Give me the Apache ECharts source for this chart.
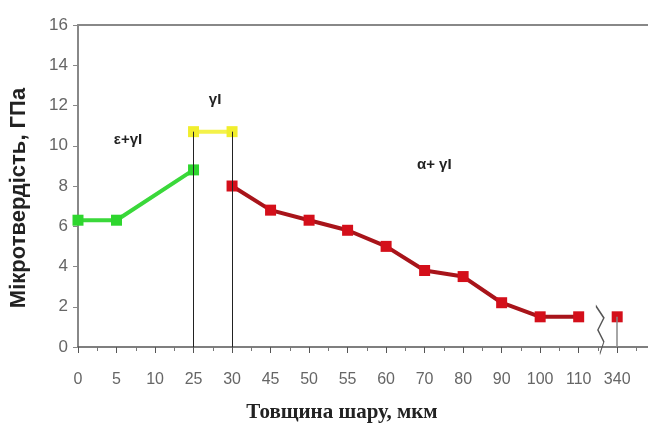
<!DOCTYPE html>
<html><head><meta charset="utf-8">
<script src="https://cdn.jsdelivr.net/npm/echarts@6/dist/echarts.min.js"></script>
<style>html,body{margin:0;padding:0;background:#fff}#c{width:648px;height:425px}</style>
</head><body><div id="c"></div>
<script>
const categories = ['0','5','10','25','30','45','50','55','60','70','80','90','100','110','340'];
const greenValues = [6.3, 6.3, null, 8.8, null, null, null, null, null, null, null, null, null, null, null];
const yellowValues = [null, null, null, 10.7, 10.7, null, null, null, null, null, null, null, null, null, null];
const redValues = [null, null, null, null, 8.0, 6.8, 6.3, 5.8, 5.0, 3.8, 3.5, 2.2, 1.5, 1.5, 1.5];
const yTicks = [0, 2, 4, 6, 8, 10, 12, 14, 16];
const phaseLabels = [
  {text: 'ε+γI', x: 1.3, y: 10.3},
  {text: 'γI', x: 3.56, y: 12.3},
  {text: 'α+ γI', x: 9.25, y: 9.05}
];
const breakAfter = 13; // line break between '110' and '340'

function toPairs(vals, breakIdx) {
  const out = [];
  vals.forEach((v, i) => {
    if (v === null) return;
    out.push([i, v]);
    if (breakIdx !== undefined && i === breakIdx) out.push([i + 0.5, '-']);
  });
  return out;
}

const chart = echarts.init(document.getElementById('c'));
const labelFont = {color: '#666', fontSize: 17, fontFamily: 'Liberation Sans'};
chart.setOption({
  animation: false,
  grid: {left: 78, top: 25, right: 0, bottom: 78, outerBoundsMode: 'none', containLabel: false},
  xAxis: [{
    type: 'value', min: 0, max: 14.8, interval: 1,
    axisLine: {lineStyle: {color: '#555', width: 1.5}},
    axisTick: {show: true, length: 6, lineStyle: {color: '#555'}},
    minorTick: {show: true, splitNumber: 2, length: 4, lineStyle: {color: '#777'}},
    splitLine: {show: false},
    axisLabel: Object.assign({margin: 25, showMaxLabel: false,
      formatter: v => (Number.isInteger(v) && categories[v] !== undefined) ? categories[v] : ''}, labelFont, {fontSize: 16}),
    name: 'Товщина шару, мкм', nameLocation: 'middle', nameGap: 55,
    nameTextStyle: {fontFamily: 'Liberation Serif', fontWeight: 'bold', fontSize: 21, color: '#222', padding: [0, 42, 0, 0]}
  }, {
    type: 'value', position: 'top', min: 0, max: 14.8,
    axisLine: {show: true, lineStyle: {color: '#888', width: 2}},
    axisTick: {show: false}, axisLabel: {show: false}, splitLine: {show: false}
  }],
  yAxis: {
    type: 'value', min: yTicks[0], max: yTicks[yTicks.length - 1], interval: 2,
    axisLine: {show: true, lineStyle: {color: '#888', width: 2}},
    axisTick: {show: true, length: 5, lineStyle: {color: '#888'}},
    splitLine: {show: false},
    axisLabel: Object.assign({margin: 10}, labelFont),
    name: 'Мікротвердість, ГПа', nameLocation: 'middle', nameGap: 48,
    nameTextStyle: {fontFamily: 'Liberation Sans', fontWeight: 'bold', fontSize: 22, color: '#222', padding: [0, 24, 0, 0]}
  },
  series: [
    {
      type: 'line', data: toPairs(greenValues), symbol: 'rect', symbolSize: 11,
      lineStyle: {color: '#3ad83a', width: 4}, itemStyle: {color: '#2ed62e'}, z: 3,
      markLine: {
        silent: true, symbol: 'none', label: {show: false},
        lineStyle: {color: '#222', width: 1, type: 'solid'},
        data: [
          [{coord: [3, 0]}, {coord: [3, 10.7]}],
          [{coord: [4, 0]}, {coord: [4, 10.7]}],
          [{coord: [14, 0], lineStyle: {color: '#888', width: 1.5}}, {coord: [14, 1.5]}]
        ]
      },
      markPoint: {
        silent: true, symbol: 'circle', symbolSize: 1, itemStyle: {color: 'transparent'},
        label: {show: true, color: '#222', fontSize: 15, fontWeight: 'bold', fontFamily: 'Liberation Sans', formatter: p => p.name},
        data: phaseLabels.map(p => ({name: p.text, coord: [p.x, p.y]})).concat([{
          name: 'break', coord: [breakAfter + 0.55, 0.85], symbol: 'path://M0,0 L8,12 L2,24 L8,36 L4,48',
          symbolSize: [8, 48], itemStyle: {color: 'none', borderColor: '#555', borderWidth: 1.2},
          label: {show: false}
        }])
      }
    },
    {
      type: 'line', data: toPairs(yellowValues), symbol: 'rect', symbolSize: 11,
      lineStyle: {color: '#f4f24a', width: 4}, itemStyle: {color: '#f1ee2c'}, z: 3
    },
    {
      type: 'line', data: toPairs(redValues, breakAfter), symbol: 'rect', symbolSize: 11,
      connectNulls: false,
      lineStyle: {color: '#a8141a', width: 4}, itemStyle: {color: '#d40f1a'}, z: 3
    }
  ]
});
</script></body></html>
